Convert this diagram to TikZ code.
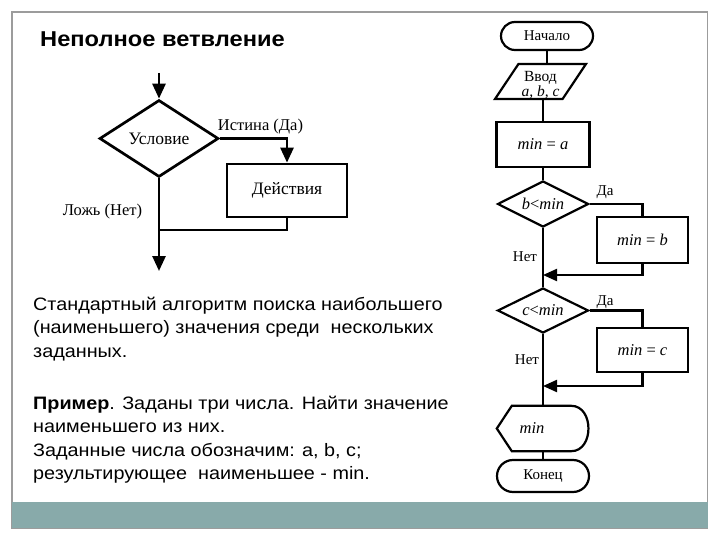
\documentclass[tikz,border=0pt]{standalone}
\usepackage{fontspec}
\setmainfont{Liberation Serif}
\newfontfamily\sansf[FakeStretch=1.1]{Liberation Sans}
\usetikzlibrary{shapes.geometric,shapes.misc,arrows.meta}
\definecolor{barc}{HTML}{88AAAA}
\definecolor{framec}{HTML}{9C9C9C}
\begin{document}
\begin{tikzpicture}[x=1pt,y=-1pt,
  lline/.style={line width=2.7pt},
  rline/.style={line width=2.2pt},
  larr/.style={-{Triangle[length=15pt,width=13pt]}},
  rarr/.style={-{Triangle[length=14pt,width=12pt]}},
  ltext/.style={font=\fontsize{16.5}{16.5}\selectfont},
  rtext/.style={font=\fontsize{15}{15}\selectfont},
  mtext/.style={font=\fontsize{16.5}{16.5}\selectfont},
  ldiam/.style={draw,lline,diamond,aspect=2,inner sep=0pt,font=\fontsize{17.5}{17.5}\selectfont},
  lbox/.style={draw,lline,rectangle,inner sep=0pt,font=\fontsize{17.5}{17.5}\selectfont},
  rdiam/.style={draw,rline,diamond,aspect=2,inner sep=0pt,mtext},
  rbox/.style={draw,rline,rectangle,inner sep=0pt,mtext},
  term/.style={draw,rline,rounded rectangle,inner sep=0pt,rtext},
  para/.style={draw,rline,trapezium,trapezium left angle=60,trapezium right angle=120,trapezium stretches=true,inner sep=0pt},
  ptext/.style={anchor=base west,inner sep=0pt,font=\sansf\fontsize{18}{22}\selectfont}
]
\useasboundingbox (0,0) rectangle (720,540);
% slide frame and footer bar
\draw[framec,line width=1.2pt] (12,12) rectangle (707.5,528);
\fill[barc] (12,502) rectangle (707.5,528);

% title
\node[anchor=base west,inner sep=0pt,font=\sansf\bfseries\fontsize{21.5}{21.5}\selectfont] (title) at (40,47) {Неполное ветвление};

% ---- left flowchart ----
\node[ldiam,minimum width=119pt,minimum height=77pt] (cond) at (159,138.5) {Условие};
\node[lbox,minimum width=120pt,minimum height=53pt] (act) at (287,190.5) {Действия};
\coordinate (ltop) at (159,73);
\coordinate (lj) at (159,230);
\coordinate (lend) at (159,271);
\draw[lline,larr] (ltop) -- (cond.north);
\draw[lline,larr] (cond.east) -| (act.north);
\draw[lline] (act.south) |- (lj);
\draw[lline,larr] (cond.south) -- (lend);
\node[ltext] (tl) at (260.5,127) {Истина (Да)};
\node[ltext] (fl) at (102.5,212) {Ложь (Нет)};

% ---- text ----
\node[ptext] (p1) at (33,310) {Стандартный алгоритм поиска наибольшего};
\node[ptext] (p2) at (33,333.5) {(наименьшего) значения среди~ нескольких};
\node[ptext] (p3) at (33,357) {заданных.};
\node[ptext] (p4) at (33,409) {\textbf{Пример}. Заданы три числа. Найти значение};
\node[ptext] (p5) at (33,432.5) {наименьшего из них.};
\node[ptext] (p6) at (33,456) {Заданные числа обозначим: a, b, c;};
\node[ptext] (p7) at (33,479.5) {результирующее~ наименьшее - min.};

% ---- right flowchart ----
\node[term,minimum width=92pt,minimum height=28pt] (start) at (547,36) {Начало};
\node[para,minimum width=91pt,minimum height=35pt] (in) at (540.5,81.5) {\phantom{x}};
\node[align=center,inner sep=0pt,font=\fontsize{15.5}{14.5}\selectfont] (intext) at ([yshift=-3.5pt]in.center) {Ввод\\\textit{a, b, c}};
\node[rbox,minimum width=93pt,minimum height=45pt] (init) at (543,144.5) {\textit{min} = \textit{a}};
\node[rdiam,minimum width=91pt,minimum height=46pt] (d1) at (543,204) {\textit{b}<\textit{min}};
\node[rbox,minimum width=91pt,minimum height=46pt] (b1) at (642.5,240) {\textit{min} = \textit{b}};
\coordinate (m1) at (543,275);
\node[rdiam,minimum width=91pt,minimum height=45pt] (d2) at (543,310.5) {\textit{c}<\textit{min}};
\node[rbox,minimum width=91pt,minimum height=44pt] (b2) at (642.5,350) {\textit{min} = \textit{c}};
\coordinate (m2) at (543,386);
\node[inner sep=0pt,minimum width=92pt,minimum height=45pt] (out) at (543,428.5) {};
\draw[rline] (out.west) -- ([xshift=15pt]out.north west) -- ([xshift=-18pt]out.north east)
  .. controls ([xshift=5pt]out.north east) and ([xshift=5pt]out.south east) .. ([xshift=-18pt]out.south east)
  -- ([xshift=15pt]out.south west) -- cycle;
\node[mtext] (outt) at ([xshift=-11pt]out.center) {\textit{min}};
\node[term,minimum width=92pt,minimum height=32pt] (end) at (543,476) {Конец};

\draw[rline] (start.south) -- (start.south |- in.north);
\draw[rline] (init.north) -- (init.north |- in.south);
\draw[rline] (init.south) -- (d1.north);
\draw[rline] (d1.east) -| (b1.north);
\draw[rline,rarr] (b1.south) |- (m1);
\draw[rline] (d1.south) -- (d2.north);
\draw[rline] (d2.east) -| (b2.north);
\draw[rline,rarr] (b2.south) |- (m2);
\draw[rline] (d2.south) -- (out.north);
\draw[rline] (out.south) -- (end.north);

\node[rtext] (y1) at (605,192) {Да};
\node[rtext] (n1) at (525,257) {Нет};
\node[rtext] (y2) at (605,302) {Да};
\node[rtext] (n2) at (527,360) {Нет};
\end{tikzpicture}
\end{document}
